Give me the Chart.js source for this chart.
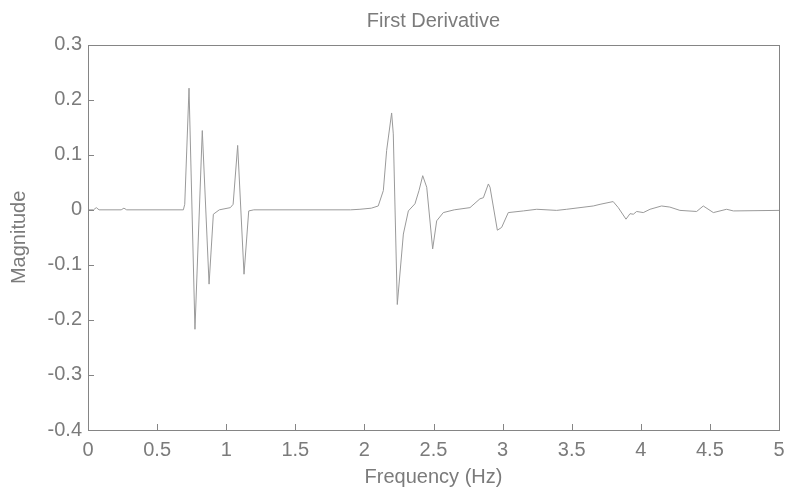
<!DOCTYPE html>
<html>
<head>
<meta charset="utf-8">
<script src="https://cdn.jsdelivr.net/npm/chart.js@4"></script>
<style>
  html, body { margin: 0; padding: 0; background: #fff; }
  #wrap { width: 787px; height: 487px; }
</style>
</head>
<body>
<div id="wrap"><canvas id="derivChart"></canvas></div>
<script>
// values
const freq = [0, 0.04, 0.06, 0.08, 0.24, 0.26, 0.28, 0.69, 0.70, 0.731, 0.774, 0.827, 0.876, 0.907, 0.95,
    1.03, 1.05, 1.083, 1.129, 1.163, 1.20, 1.90, 1.968, 2.05, 2.10, 2.137, 2.161, 2.197, 2.209, 2.238,
    2.282, 2.318, 2.366, 2.395, 2.422, 2.451, 2.494, 2.523, 2.571, 2.65, 2.764, 2.836, 2.861, 2.897,
    2.909, 2.962, 2.993, 3.041, 3.15, 3.247, 3.391, 3.464, 3.656, 3.705, 3.80, 3.837, 3.893, 3.922,
    3.946, 3.97, 4.018, 4.067, 4.15, 4.21, 4.283, 4.404, 4.452, 4.525, 4.621, 4.67, 5.0];
const magnitude = [0, 0, 0.004, 0, 0, 0.003, 0, 0, 0.01, 0.221, -0.217, 0.144, -0.135, -0.008, 0,
    0.004, 0.01, 0.117, -0.117, -0.002, 0, 0, 0.001, 0.003, 0.007, 0.035, 0.108, 0.176, 0.138, -0.172,
    -0.044, -0.002, 0.011, 0.035, 0.062, 0.041, -0.071, -0.020, -0.005, 0, 0.004, 0.020, 0.022, 0.047,
    0.041, -0.037, -0.032, -0.005, -0.002, 0.001, -0.001, 0.001, 0.007, 0.010, 0.015, 0.004, -0.017, -0.007,
    -0.008, -0.003, -0.005, 0.001, 0.007, 0.005, -0.001, -0.003, 0.007, -0.005, 0.001, -0.002, -0.001];
const xTicks = [0, 0.5, 1, 1.5, 2, 2.5, 3, 3.5, 4, 4.5, 5];
const yTicks = [-0.4, -0.3, -0.2, -0.1, 0, 0.1, 0.2, 0.3];

const textColor = '#7b7b7b';
const axisColor = '#858585';
const fontFamily = '"Liberation Sans", Arial, Helvetica, sans-serif';

// box around the plot plus small inward ticks (bottom and left)
const boxPlugin = {
    id: 'boxPlugin',
    afterDraw(chart) {
        const { ctx, chartArea: a, scales } = chart;
        ctx.save();
        ctx.strokeStyle = axisColor;
        ctx.lineWidth = 1;
        ctx.strokeRect(Math.round(a.left) + 0.5, Math.round(a.top) + 0.5,
            Math.round(a.right - a.left), Math.round(a.bottom - a.top));
        ctx.beginPath();
        xTicks.forEach(v => {
            const px = Math.round(scales.x.getPixelForValue(v)) + 0.5;
            ctx.moveTo(px, a.bottom);
            ctx.lineTo(px, a.bottom - 6);
        });
        yTicks.forEach(v => {
            const py = Math.round(scales.y.getPixelForValue(v)) + 0.5;
            ctx.moveTo(a.left, py);
            ctx.lineTo(a.left + 6, py);
        });
        ctx.stroke();
        ctx.restore();
    }
};

const ctx = document.getElementById('derivChart').getContext('2d');
new Chart(ctx, {
    type: 'line',
    data: {
        datasets: [{
            label: 'First Derivative',
            data: freq.map((f, i) => ({ x: f, y: magnitude[i] })),
            borderColor: '#9a9a9a',
            borderWidth: 1,
            pointRadius: 0,
            tension: 0,
            fill: false
        }]
    },
    options: {
        responsive: true,
        maintainAspectRatio: false,
        animation: false,
        layout: { padding: { left: 0, right: 8, top: 0, bottom: 0 } },
        plugins: {
            legend: { display: false },
            tooltip: { enabled: false },
            title: {
                display: true,
                text: 'First Derivative',
                fullSize: false,
                color: textColor,
                font: { family: fontFamily, size: 20, weight: 'normal', lineHeight: 1.2 },
                padding: { top: 9, bottom: 11.7 }
            }
        },
        scales: {
            x: {
                type: 'linear',
                min: 0,
                max: 5,
                afterBuildTicks: scale => { scale.ticks = xTicks.map(v => ({ value: v })); },
                afterFit: scale => {
                    scale.height = 57;
                    scale.paddingLeft = 0;
                    scale.paddingRight = 0;
                },
                grid: { display: false, drawTicks: false },
                border: { display: false },
                ticks: {
                    color: textColor,
                    padding: 8,
                    maxRotation: 0,
                    font: { family: fontFamily, size: 20 },
                    callback: v => String(v)
                },
                title: {
                    display: true,
                    text: 'Frequency (Hz)',
                    color: textColor,
                    font: { family: fontFamily, size: 20, lineHeight: 1 },
                    padding: { top: 0, bottom: 0 }
                }
            },
            y: {
                min: -0.4,
                max: 0.3,
                afterBuildTicks: scale => { scale.ticks = yTicks.map(v => ({ value: v })); },
                afterFit: scale => { scale.width = 88; },
                grid: { display: false, drawTicks: false },
                border: { display: false },
                ticks: {
                    color: textColor,
                    padding: 6,
                    font: { family: fontFamily, size: 20 },
                    callback: v => String(Number(v.toFixed(1)))
                },
                title: {
                    display: true,
                    text: 'Magnitude',
                    color: textColor,
                    font: { family: fontFamily, size: 20, lineHeight: 1 },
                    padding: { top: 9, bottom: 0 }
                }
            }
        }
    },
    plugins: [boxPlugin]
});
</script>
</body>
</html>
